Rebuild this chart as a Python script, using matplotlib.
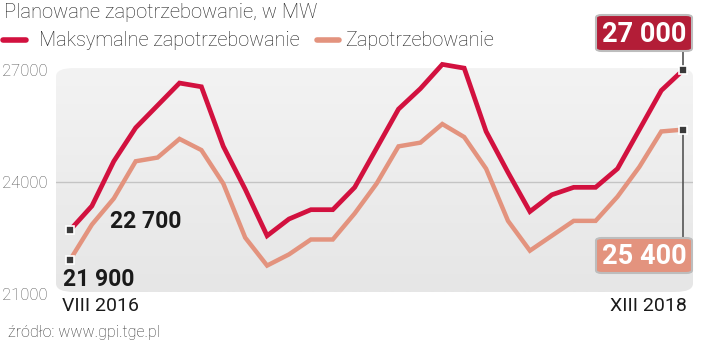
import numpy as np
import matplotlib
matplotlib.use('Agg')
from matplotlib import pyplot as plt
from matplotlib.patches import FancyBboxPatch

#------------------------------------------------------------------
#-------------------- Dane ----------------------------------------
#------------------------------------------------------------------
maksymalne = [22700, 23350, 24550, 25450, 26050, 26650, 26550, 24950, 23800, 22550,
              23000, 23250, 23250, 23850, 24900, 25950, 26500, 27150, 27050, 25350,
              24250, 23200, 23650, 23850, 23850, 24350, 25400, 26450, 27000]
zapotrzebowanie = [21900, 22850, 23550, 24550, 24650, 25150, 24850, 23950, 22500, 21750,
                   22050, 22450, 22450, 23150, 23950, 24950, 25050, 25550, 25200, 24350,
                   22950, 22150, 22550, 22950, 22950, 23600, 24400, 25350, 25400]
yticks = [21000, 24000, 27000]
etykietaStart = 'VIII 2016'
etykietaKoniec = 'XIII 2018'

CZERWONY = '#d2113f'
LOSOS = '#e3937e'
W, H = 720, 343

def px(x, y):
    return x / W, 1 - y / H

#------------------------------------------------------------------
#-------------------- Wykres --------------------------------------
#------------------------------------------------------------------
fig = plt.figure(figsize=(7.2, 3.43), dpi=100)
fig.patch.set_facecolor('white')

# tlo z gradientem i zaokraglonymi rogami
x0, y0, x1, y1 = 56, 68, 693, 292
tlo = FancyBboxPatch(px(x0, y1), (x1 - x0) / W, (y1 - y0) / H,
                     boxstyle='round,pad=0,rounding_size=0.025',
                     transform=fig.transFigure, facecolor='none', edgecolor='none')
fig.patches.append(tlo)
axbg = fig.add_axes([x0 / W, 1 - y1 / H, (x1 - x0) / W, (y1 - y0) / H])
axbg.axis('off')
grad = np.linspace(0, 1, 100).reshape(-1, 1)
im = axbg.imshow(grad, aspect='auto', cmap=matplotlib.colors.LinearSegmentedColormap.from_list(
    'g', ['#f3f3f3', '#e6e6e6']), extent=[0, 1, 0, 1], origin='upper')
im.set_clip_path(tlo)

ax = fig.add_axes([x0 / W, 1 - y1 / H, (x1 - x0) / W, (y1 - y0) / H])
ax.patch.set_alpha(0)
n = len(maksymalne)
xs = np.arange(n)
dx = 21.9
ax.set_xlim((x0 - 70) / dx, (x1 - 70) / dx)
pxk = 37.25 / 1000
ax.set_ylim(27000 - (y1 - 70) / pxk, 27000 + (70 - y0) / pxk)
for s in ax.spines.values():
    s.set_visible(False)
ax.set_xticks([])
ax.set_yticks([])
ax.axhline(24000, color='#c4c4c4', lw=1, zorder=1)

ax.plot(xs, zapotrzebowanie, color=LOSOS, lw=3.2, solid_joinstyle='miter', zorder=3, clip_on=False)
ax.plot(xs, maksymalne, color=CZERWONY, lw=3.4, solid_joinstyle='miter', zorder=4, clip_on=False)

# laczniki do etykiet
ax.plot([n - 1, n - 1], [maksymalne[-1], 27000 + (70 - 51) / pxk], color='#555555', lw=1.2, zorder=2, clip_on=False)
ax.plot([n - 1, n - 1], [zapotrzebowanie[-1], 27000 - (238 - 70) / pxk], color='#555555', lw=1.2, zorder=2, clip_on=False)

for seria in (maksymalne, zapotrzebowanie):
    ax.plot([0, n - 1], [seria[0], seria[-1]], ls='none', marker='s', ms=5.5,
            mfc='#3a3a3a', mec='white', mew=1.2, zorder=6, clip_on=False)

# opisy osi y
for v in yticks:
    yy = 70 + (27000 - v) * pxk
    fig.text(*px(2, yy + 2), str(v), fontsize=12, color='#555555',
             family='Roboto', fontweight='light', ha='left', va='center')

# tytul i legenda
fig.text(*px(4, 12), 'Planowane zapotrzebowanie, w MW', fontsize=14.5, color='#222222',
         family='Roboto', fontweight='light', ha='left', va='center')
fig.lines.append(plt.Line2D([3 / W, 26 / W], [1 - 40 / H] * 2, color=CZERWONY, lw=4,
                            solid_capstyle='round', transform=fig.transFigure))
fig.text(*px(39, 40), 'Maksymalne zapotrzebowanie', fontsize=14.3, color='#222222',
         family='Roboto', fontweight='light', ha='left', va='center')
fig.lines.append(plt.Line2D([317 / W, 339 / W], [1 - 40 / H] * 2, color=LOSOS, lw=4,
                            solid_capstyle='round', transform=fig.transFigure))
fig.text(*px(345, 40), 'Zapotrzebowanie', fontsize=14.3, color='#222222',
         family='Roboto', fontweight='light', ha='left', va='center')

# etykiety osi x
fig.text(*px(62, 306), etykietaStart, fontsize=14, color='#1a1a1a',
         family='Roboto', ha='left', va='center')
fig.text(*px(687, 306), etykietaKoniec, fontsize=14, color='#1a1a1a',
         family='Roboto', ha='right', va='center')
fig.text(*px(8, 333), 'źródło: www.gpi.tge.pl', fontsize=11.5, color='#333333',
         family='Roboto', fontweight='light', ha='left', va='center')

# wartosci poczatkowe
fig.text(*px(110, 222), '22 700', fontsize=16.5, color='#1a1a1a', family='Roboto',
         fontweight='bold', ha='left', va='center')
fig.text(*px(63, 279), '21 900', fontsize=16.5, color='#1a1a1a', family='Roboto',
         fontweight='bold', ha='left', va='center')

# etykiety koncowe w ramkach
def Ramka(xl, yt, xr, yb, kolor, tekst):
    r = FancyBboxPatch(px(xl, yb), (xr - xl) / W, (yb - yt) / H,
                       boxstyle='round,pad=0,rounding_size=0.008', transform=fig.transFigure,
                       facecolor=kolor, edgecolor='#bdbdbd', lw=1.5, zorder=10)
    fig.patches.append(r)
    fig.text(*px((xl + xr) / 2, (yt + yb) / 2 + 1), tekst, fontsize=19.5, color='white',
             family='Roboto', fontweight='bold', ha='center', va='center', zorder=11)

Ramka(596, 15, 692, 51, '#b31d37', '27 000')
Ramka(596, 238, 692, 273, LOSOS, '25 400')

plt.savefig('out.png', dpi=100)
